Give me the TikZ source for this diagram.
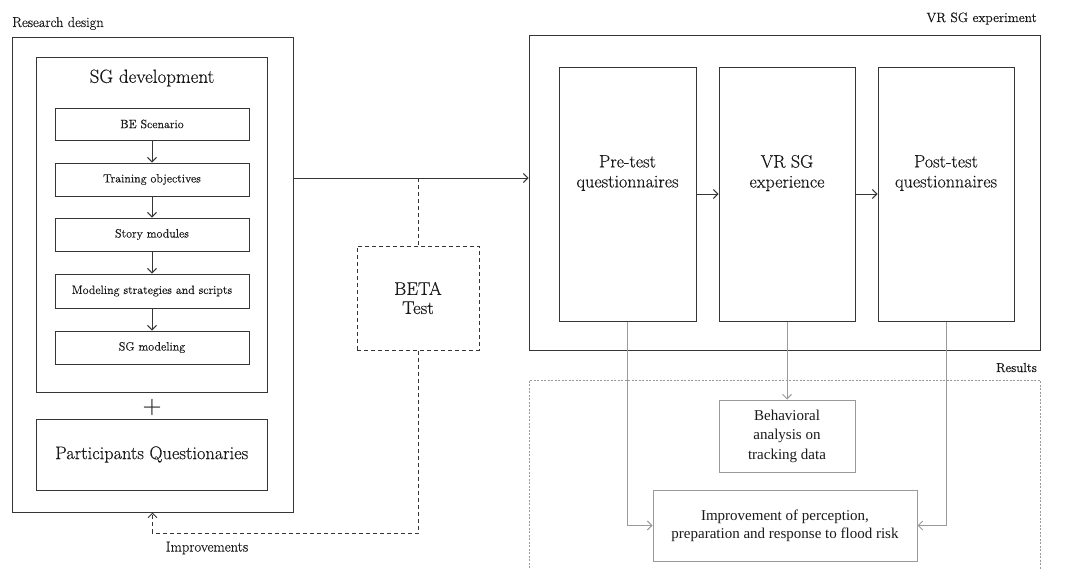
\documentclass[tikz,border=0pt]{standalone}
\usepackage{fontspec}
\setmainfont{Latin Modern Roman}[FakeBold=0.3]
\newfontfamily\timesf{Liberation Serif}
\usetikzlibrary{arrows.meta}
\definecolor{lineC}{HTML}{363636}
\definecolor{grayC}{HTML}{9A9A9A}
\definecolor{textC}{HTML}{1A1A1A}
\newcommand{\fsz}[2]{\fontsize{#1}{#2}\selectfont}
\tikzset{
  box/.style={draw=lineC, line width=1pt, minimum width=#1, inner sep=0pt, text=textC},
  gbox/.style={draw=grayC, line width=1pt, inner sep=0pt, text=textC, align=center},
  dbox/.style={draw=lineC, line width=1pt, dash pattern=on 4pt off 3pt, inner sep=0pt, text=textC, align=center},
  lbl/.style={text=textC, inner sep=0pt},
  conn/.style={draw=lineC, line width=1pt, -{Straight Barb[length=4.5pt,width=9pt]}},
  dconn/.style={draw=lineC, line width=1pt, dash pattern=on 4pt off 3pt},
  gconn/.style={draw=grayC, line width=1pt, -{Straight Barb[length=4.5pt,width=9pt]}},
}
\begin{document}
\begin{tikzpicture}[x=1pt,y=-1pt]
\useasboundingbox[fill=white] (0,0) rectangle (1071,570);

% Research design
\node[lbl, anchor=base west, font=\fsz{14.4}{17}] (rdl) at (12,27) {Research design};
\node[box=281pt, minimum height=475pt] (rd) at (152.5,274.5) {};
\node[box=230.5pt, minimum height=335pt] (sgd) at (151.75,224.5) {};
\node[lbl, font=\fsz{19}{23}] (sgdt) at (152,78) {SG development};
\node[box=194pt, minimum height=32pt, font=\fsz{12}{14}] (be) at (152,124) {BE Scenario};
\node[box=194pt, minimum height=33pt, font=\fsz{12}{14}] (to) at (152,179.5) {Training objectives};
\node[box=194pt, minimum height=33pt, font=\fsz{12}{14}] (sm) at (152,234.5) {Story modules};
\node[box=194pt, minimum height=34pt, font=\fsz{12}{14}] (ms) at (152,291) {Modeling strategies and scripts};
\node[box=194pt, minimum height=33pt, font=\fsz{12}{14}] (sgm) at (152,347.5) {SG modeling};
\draw[conn] (be) -- (to);
\draw[conn] (to) -- (sm);
\draw[conn] (sm) -- (ms);
\draw[conn] (ms) -- (sgm);
\node[lbl, font=\fsz{26}{30}] (plus) at (152,407) {+};
\node[box=230.5pt, minimum height=71pt, font=\fsz{18.3}{22}] (pq) at (151.75,454.5) {Participants Questionaries};

% BETA test
\node[dbox, minimum width=122pt, minimum height=104pt, font=\fsz{18.5}{22}] (beta) at (418,298) {BETA\\[-3pt]Test};

% VR SG experiment
\node[lbl, anchor=base east, font=\fsz{13.5}{16}] (vrl) at (1037,22) {VR SG experiment};
\node[box=511pt, minimum height=315pt] (vr) at (784.5,192.5) {};
\node[box=137pt, minimum height=254pt] (pre) at (627.5,194) {};
\node[box=136pt, minimum height=254pt] (vre) at (787,194) {};
\node[box=136pt, minimum height=254pt] (post) at (946,194) {};
\node[lbl, align=center, font=\fsz{18}{22}] (pret) at (627.5,173) {Pre-test\\[-2pt]questionnaires};
\node[lbl, align=center, font=\fsz{18}{22}] (vret) at (787,173) {VR SG\\[-2pt]experience};
\node[lbl, align=center, font=\fsz{18}{22}] (postt) at (946,173) {Post-test\\[-2pt]questionnaires};
\draw[conn] (pre) -- (vre);
\draw[conn] (vre) -- (post);

% main connectors
\coordinate (j) at (418,178);
\draw[conn] (rd.east |- j) -- (vr.west |- j);
\draw[dconn] (j) -- (beta.north);
\coordinate (k) at (418,533);
\draw[dconn, -{Straight Barb[length=4.5pt,width=9pt]}] (beta.south) -- (k) -| (rd.south);
\node[lbl, font=\fsz{14.6}{17}] (impl) at (207,548) {Improvements};

% Results
\node[lbl, anchor=base east, font=\fsz{13}{16}] (resl) at (1037,372) {Results};
\coordinate (r1) at (529,575);
\coordinate (r2) at (529,380);
\coordinate (r3) at (1040,380);
\coordinate (r4) at (1040,575);
\draw[draw=grayC, line width=0.9pt, dash pattern=on 2pt off 1.5pt] (r1) -- (r2) -- (r3) -- (r4);
\node[gbox, minimum width=136pt, minimum height=72pt, font=\timesf\fontsize{15}{19.5}\selectfont] (beh) at (787,436) {Behavioral\\analysis on\\tracking data};
\node[gbox, minimum width=264pt, minimum height=71pt, font=\timesf\fontsize{15}{17.7}\selectfont] (imp) at (785,525.5) {Improvement of perception,\\preparation and response to flood risk};
\draw[gconn] (vre.south) -- (beh.north);
\draw[gconn] (pre.south) |- (imp.west);
\draw[gconn] (post.south) |- (imp.east);
\end{tikzpicture}
\end{document}
